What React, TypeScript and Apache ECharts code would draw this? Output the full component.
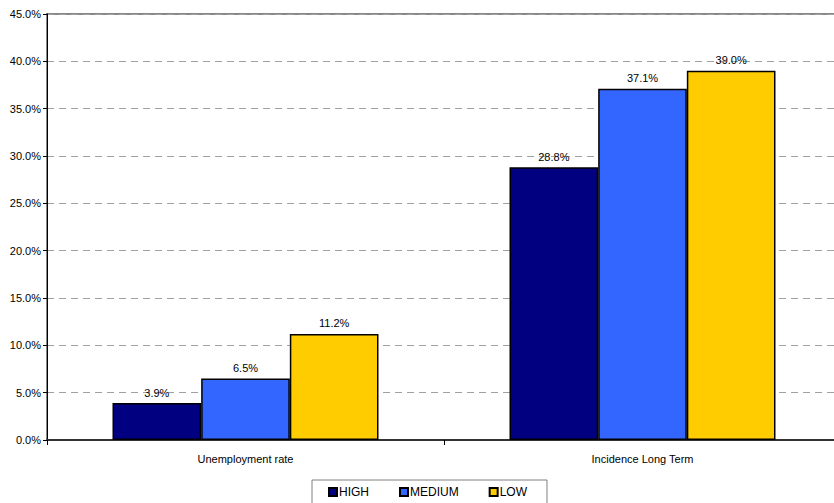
import React, { useEffect, useRef } from "react";
import * as echarts from "echarts";

const categories = ["Unemployment rate", "Incidence Long Term"];
const seriesNames = ["HIGH", "MEDIUM", "LOW"];
const highValues = [3.9, 28.8];
const mediumValues = [6.5, 37.1];
const lowValues = [11.2, 39.0];
const yTicks = { min: 0, max: 45, interval: 5 };
const colors = ["#000080", "#3366FF", "#FFCC00"];

export default function App() {
  const ref = useRef<HTMLDivElement>(null);
  useEffect(() => {
    if (!ref.current) return;
    const chart = echarts.init(ref.current, null, { renderer: "svg" });
    const allValues = [highValues, mediumValues, lowValues];
    const font = "Liberation Sans, Arial, sans-serif";
    chart.setOption({
      animation: false,
      textStyle: { fontFamily: font },
      grid: {
        left: 47,
        top: 14,
        right: 0,
        bottom: 63,
        show: true,
        borderColor: "#888888",
        borderWidth: 2,
        backgroundColor: "transparent",
      },
      legend: {
        left: 312,
        top: 480,
        padding: [6, 20, 6, 16],
        borderColor: "#808080",
        borderWidth: 1,
        itemWidth: 8,
        itemHeight: 8,
        itemGap: 30,
        icon: "rect",
        textStyle: { fontSize: 12, color: "#000", fontFamily: font, padding: [0, 0, 0, -3] },
        data: seriesNames,
      },
      xAxis: {
        type: "category",
        data: categories,
        axisLine: { lineStyle: { color: "#333", width: 2 } },
        axisTick: { show: true, length: 5, lineStyle: { color: "#000" } },
        axisLabel: { fontSize: 11, color: "#000", margin: 13, fontFamily: font },
        splitLine: { show: false },
      },
      yAxis: {
        type: "value",
        min: yTicks.min,
        max: yTicks.max,
        interval: yTicks.interval,
        axisLine: { show: true, lineStyle: { color: "#000", width: 1 } },
        axisTick: { show: true, length: 4, lineStyle: { color: "#000" } },
        axisLabel: {
          fontSize: 11,
          color: "#000",
          margin: 6,
          fontFamily: font,
          formatter: (v: number) => v.toFixed(1) + "%",
        },
        splitLine: { show: true, lineStyle: { color: "#A0A0A0", type: [7, 5], width: 1 } },
      },
      series: seriesNames.map((name, i) => ({
        name,
        type: "bar",
        data: allValues[i],
        barGap: "0%",
        barCategoryGap: "33%",
        itemStyle: { color: colors[i], borderColor: "#000", borderWidth: 1.5 },
        label: {
          show: true,
          position: "top",
          distance: 5,
          fontSize: 11,
          color: "#000",
          fontFamily: font,
          formatter: (p: any) => Number(p.value).toFixed(1) + "%",
        },
      })),
    });
    return () => chart.dispose();
  }, []);
  return (
    <div style={{ position: "fixed", left: 0, top: 0, width: 834, height: 503, overflow: "hidden", background: "#fff" }}>
      <div ref={ref} style={{ width: 841, height: 503 }} />
    </div>
  );
}
